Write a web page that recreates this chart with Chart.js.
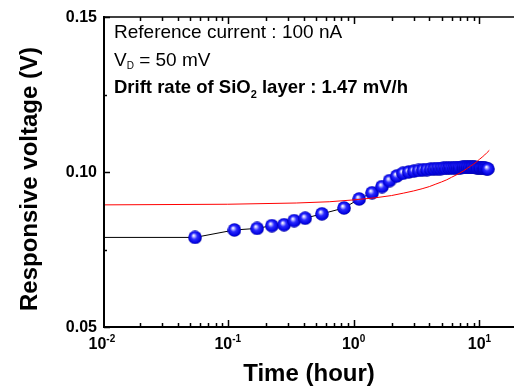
<!DOCTYPE html>
<html lang="en">
<head>
<meta charset="UTF-8">
<title>Responsive voltage drift</title>
<script src="https://cdn.jsdelivr.net/npm/chart.js"></script>
<style>
  body { margin: 0; background: #fff; }
  canvas { display: block; }
</style>
</head>
<body>
<canvas id="myChart" width="522" height="389"></canvas>
<script>
// valores (tempo em horas, tensao em V)
const timeH = [0.055, 0.113, 0.171, 0.224, 0.280, 0.337, 0.412, 0.560, 0.839, 1.107,
  1.40, 1.68, 1.93, 2.20, 2.47, 2.74, 3.01, 3.28, 3.55, 3.82,
  4.09, 4.36, 4.63, 4.90, 5.17, 5.44, 5.71, 5.98, 6.25, 6.52,
  6.79, 7.06, 7.33, 7.60, 7.87, 8.14, 8.41, 8.68, 8.95, 9.22,
  9.49, 9.76, 10.03, 10.30, 10.57, 10.84, 11.11, 11.38, 11.65];
const voltV = [0.0789, 0.0813, 0.0818, 0.0827, 0.0830, 0.0843, 0.0851, 0.0865, 0.0884, 0.0913,
  0.0933, 0.0953, 0.0972, 0.0987, 0.0996, 0.1000, 0.1003, 0.1005, 0.1007, 0.1008,
  0.1009, 0.1010, 0.1011, 0.1011, 0.1012, 0.1012, 0.1013, 0.1013, 0.1013, 0.1014,
  0.1014, 0.1014, 0.1015, 0.1015, 0.1015, 0.1015, 0.1015, 0.1015, 0.1015, 0.1015,
  0.1014, 0.1014, 0.1014, 0.1013, 0.1013, 0.1012, 0.1012, 0.1011, 0.1010];

// reta de ajuste (vermelha), lida ponto a ponto
const fitTime = [0.0104, 0.1, 0.35, 0.64, 1.0, 1.5, 2.0, 2.5, 3.0, 3.5, 4.0, 4.5, 5.0, 5.5, 6.0,
  6.5, 7.0, 7.5, 8.0, 8.5, 9.0, 9.5, 10.0, 10.5, 11.0, 11.5, 11.97];
const fitVolt = [0.0894, 0.0896, 0.0900, 0.0904, 0.0910, 0.0917, 0.0924, 0.0932, 0.0939, 0.0946, 0.0953, 0.0961, 0.0968, 0.0975, 0.0983,
  0.0990, 0.0997, 0.1004, 0.1012, 0.1019, 0.1026, 0.1033, 0.1041, 0.1048, 0.1055, 0.1063, 0.1070];

// a linha preta comeca no eixo com o valor do primeiro ponto
const leadTime = 0.0104;

const xMin = 0.0104, xMax = 18.8;
const yMin = 0.05, yMax = 0.15;
const xMajorTicks = [0.01, 0.1, 1, 10];
const xTickExp = ['-2', '-1', '0', '1'];
const xMinorTicks = [0.02, 0.03, 0.04, 0.05, 0.06, 0.07, 0.08, 0.09,
  0.2, 0.3, 0.4, 0.5, 0.6, 0.7, 0.8, 0.9,
  2, 3, 4, 5, 6, 7, 8, 9];
const yMajorTicks = [0.05, 0.10, 0.15];
const yTickLabels = ['0.05', '0.10', '0.15'];
const yMinorTicks = [0.075, 0.125];

function pontos(xs, ys) {
  return xs.map((t, i) => ({ x: t, y: ys[i] }));
}

// bolinha azul com brilho
function esfera() {
  const c = document.createElement('canvas');
  c.width = 14; c.height = 14;
  const g = c.getContext('2d');
  const grad = g.createRadialGradient(5.5, 5, 0.3, 7, 7, 7);
  grad.addColorStop(0, '#ffffff');
  grad.addColorStop(0.18, '#a8a8ff');
  grad.addColorStop(0.42, '#2a2aff');
  grad.addColorStop(0.85, '#0000e0');
  grad.addColorStop(1, '#000090');
  g.fillStyle = grad;
  g.beginPath();
  g.arc(7, 7, 6.8, 0, Math.PI * 2);
  g.fill();
  return c;
}

const eixos = {
  id: 'eixos',
  afterDatasetsDraw(chart) {
    const { ctx, chartArea: a, scales: { x, y } } = chart;
    ctx.save();
    ctx.strokeStyle = '#000';
    ctx.fillStyle = '#000';

    ctx.lineWidth = 2;
    ctx.beginPath();
    ctx.moveTo(a.left, a.top - 1);
    ctx.lineTo(a.left, a.bottom);
    ctx.lineTo(a.right, a.bottom);
    ctx.stroke();
    ctx.lineWidth = 1.5;
    ctx.beginPath();
    ctx.moveTo(a.left, a.top);
    ctx.lineTo(a.right, a.top);
    ctx.stroke();

    // ticks do eixo x (baixo e cima, para dentro)
    ctx.lineWidth = 1.5;
    ctx.beginPath();
    xMajorTicks.forEach(v => {
      const px = Math.round(x.getPixelForValue(v)) + 0.5;
      if (px < a.left + 2) return;
      ctx.moveTo(px, a.bottom); ctx.lineTo(px, a.bottom - 7);
      ctx.moveTo(px, a.top); ctx.lineTo(px, a.top + 7);
    });
    xMinorTicks.forEach(v => {
      const px = Math.round(x.getPixelForValue(v)) + 0.5;
      ctx.moveTo(px, a.bottom); ctx.lineTo(px, a.bottom - 4);
      ctx.moveTo(px, a.top); ctx.lineTo(px, a.top + 4);
    });
    yMajorTicks.forEach(v => {
      const py = Math.round(y.getPixelForValue(v)) + 0.5;
      ctx.moveTo(a.left, py); ctx.lineTo(a.left + 6, py);
    });
    yMinorTicks.forEach(v => {
      const py = Math.round(y.getPixelForValue(v)) + 0.5;
      ctx.moveTo(a.left, py); ctx.lineTo(a.left + 3, py);
    });
    ctx.stroke();

    // rotulos do eixo y
    ctx.font = 'bold 16px "Liberation Sans", Arial, sans-serif';
    ctx.textAlign = 'right';
    ctx.textBaseline = 'middle';
    yMajorTicks.forEach((v, i) => {
      ctx.fillText(yTickLabels[i], a.left - 7, y.getPixelForValue(v) + 1);
    });

    // rotulos do eixo x: 10 com expoente
    ctx.textBaseline = 'alphabetic';
    ctx.textAlign = 'left';
    xMajorTicks.forEach((v, i) => {
      const px = x.getPixelForValue(v);
      ctx.font = 'bold 16px "Liberation Sans", Arial, sans-serif';
      const wb = ctx.measureText('10').width;
      ctx.font = 'bold 10px "Liberation Sans", Arial, sans-serif';
      const we = ctx.measureText(xTickExp[i]).width;
      const x0 = px - (wb + we) / 2;
      ctx.font = 'bold 16px "Liberation Sans", Arial, sans-serif';
      ctx.fillText('10', x0, a.bottom + 22);
      ctx.font = 'bold 10px "Liberation Sans", Arial, sans-serif';
      ctx.fillText(xTickExp[i], x0 + wb, a.bottom + 15);
    });

    // titulos
    ctx.font = 'bold 24px "Liberation Sans", Arial, sans-serif';
    ctx.textAlign = 'center';
    ctx.textBaseline = 'middle';
    ctx.fillText('Time (hour)', (a.left + a.right) / 2, 374);
    ctx.save();
    ctx.translate(30, 179);
    ctx.rotate(-Math.PI / 2);
    ctx.fillText('Responsive voltage (V)', 0, 0);
    ctx.restore();

    // anotacoes
    ctx.textAlign = 'left';
    ctx.textBaseline = 'alphabetic';
    const tx = 114;
    ctx.font = '19px "Liberation Sans", Arial, sans-serif';
    ctx.fillText('Reference current : 100 nA', tx, 38);
    ctx.fillText('V', tx, 66);
    let w = ctx.measureText('V').width;
    ctx.font = '10px "Liberation Sans", Arial, sans-serif';
    ctx.fillText('D', tx + w, 69);
    w += ctx.measureText('D').width;
    ctx.font = '19px "Liberation Sans", Arial, sans-serif';
    ctx.fillText(' = 50 mV', tx + w, 66);

    ctx.font = 'bold 18.5px "Liberation Sans", Arial, sans-serif';
    ctx.fillText('Drift rate of SiO', tx, 93);
    w = ctx.measureText('Drift rate of SiO').width;
    ctx.font = 'bold 11px "Liberation Sans", Arial, sans-serif';
    ctx.fillText('2', tx + w, 98);
    w += ctx.measureText('2').width;
    ctx.font = 'bold 18.5px "Liberation Sans", Arial, sans-serif';
    ctx.fillText(' layer : 1.47 mV/h', tx + w, 93);
    ctx.restore();
  }
};

const ctx = document.getElementById('myChart');

new Chart(ctx, {
  type: 'scatter',
  data: {
    datasets: [
      {
        label: 'linha',
        data: [{ x: leadTime, y: voltV[0] }].concat(pontos(timeH, voltV)),
        showLine: true,
        borderColor: '#000',
        borderWidth: 1,
        pointRadius: 0,
        order: 3
      },
      {
        label: 'medido',
        data: pontos(timeH, voltV),
        showLine: false,
        pointStyle: esfera(),
        pointRadius: 7,
        order: 2
      },
      {
        label: 'ajuste',
        data: pontos(fitTime, fitVolt),
        showLine: true,
        borderColor: '#ff0000',
        borderWidth: 1,
        pointRadius: 0,
        order: 1
      }
    ]
  },
  options: {
    responsive: false,
    animation: false,
    devicePixelRatio: 1,
    layout: { padding: { left: 104, top: 17, right: 0, bottom: 62 } },
    plugins: { legend: { display: false }, tooltip: { enabled: false } },
    scales: {
      x: { type: 'logarithmic', min: xMin, max: xMax, display: false },
      y: { type: 'linear', min: yMin, max: yMax, display: false }
    }
  },
  plugins: [eixos]
});
</script>
</body>
</html>
